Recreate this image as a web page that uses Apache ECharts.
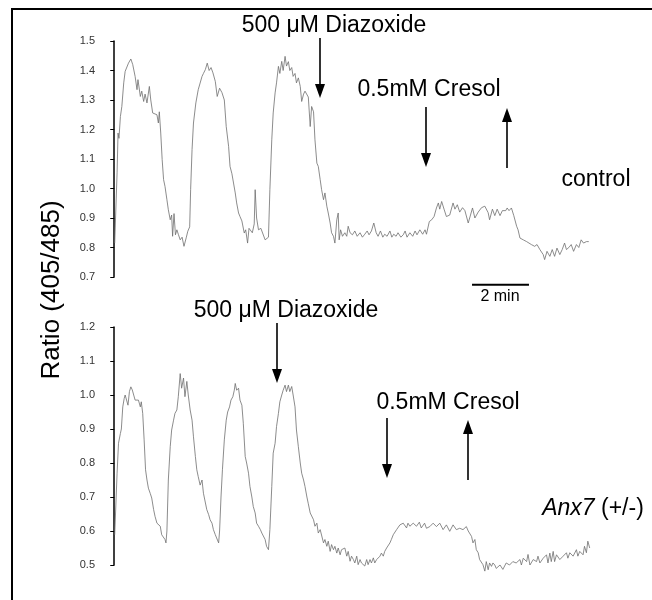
<!DOCTYPE html>
<html>
<head>
<meta charset="utf-8">
<script src="https://cdn.jsdelivr.net/npm/echarts@6/dist/echarts.min.js"></script>
<style>
  html, body { margin: 0; padding: 0; background: #fff; }
  #main { width: 652px; height: 600px; }
</style>
</head>
<body>
<div id="main"></div>
<script>
// time in seconds (2 min = 120 s), ratio 405/485
var controlTrace = [
  [1,0.815],[6,1.053],[8,1.188],[10,1.17],[13,1.244],[16,1.278],[20,1.358],[23,1.397],[30,1.425],[35,1.439],
  [39,1.42],[44,1.38],[48,1.335],[50,1.369],[55,1.312],[58,1.33],[62,1.295],[65,1.32],[69,1.29],[74,1.346],
  [77,1.30],[81,1.256],[85,1.26],[90,1.25],[93,1.222],[95,1.26],[98,1.188],[101,1.098],[104,1.03],[107,1.007],
  [111,0.962],[114,0.928],[118,0.894],[121,0.91],[123,0.838],[126,0.915],[129,0.843],[132,0.86],[135,0.845],[139,0.826],
  [143,0.835],[147,0.804],[152,0.835],[155,0.855],[159,0.87],[161,0.996],[164,1.132],[167,1.222],[172,1.29],[177,1.335],
  [181,1.34],[185,1.38],[188,1.39],[192,1.403],[196,1.425],[200,1.40],[204,1.41],[208,1.392],[213,1.363],[217,1.312],
  [222,1.34],[227,1.325],[232,1.30],[236,1.21],[241,1.143],[244,1.075],[248,1.05],[251,1.055],[255,0.985],[258,0.951],
  [262,0.917],[265,0.905],[269,0.89],[274,0.849],[277,0.86],[281,0.815],[284,0.865],[288,0.87],[291,0.85],[295,0.88],
  [297,0.996],[300,0.90],[304,0.86],[309,0.865],[313,0.86],[318,0.826],[321,0.82],[325,0.835],[328,0.996],[332,1.165],
  [335,1.256],[339,1.324],[342,1.358],[346,1.414],[349,1.39],[353,1.431],[356,1.40],[360,1.448],[363,1.415],[367,1.43],
  [370,1.40],[374,1.41],[377,1.38],[381,1.39],[384,1.358],[388,1.375],[392,1.346],[395,1.295],[399,1.32],[402,1.33],
  [406,1.325],[409,1.31],[413,1.21],[416,1.278],[420,1.26],[423,1.165],[427,1.086],[430,1.075],[434,1.03],[437,0.996],
  [441,0.962],[444,0.985],[448,0.94],[451,0.917],[455,0.883],[458,0.85],[462,0.838],[465,0.815],[469,0.894],[472,0.917],
  [474,0.826],[477,0.86],[481,0.838],[486,0.85],[490,0.838],[493,0.872],[497,0.85],[502,0.843],[507,0.856],[512,0.838],
  [518,0.85],[523,0.835],[528,0.845],[533,0.856],[537,0.843],[542,0.856],[547,0.883],[552,0.85],[556,0.838],[561,0.856],
  [566,0.835],[570,0.845],[575,0.838],[581,0.856],[585,0.835],[589,0.845],[594,0.838],[598,0.85],[604,0.835],[609,0.843],
  [613,0.856],[617,0.835],[623,0.85],[629,0.838],[634,0.856],[638,0.843],[644,0.86],[650,0.845],[655,0.86],[658,0.845],
  [664,0.888],[669,0.894],[674,0.905],[679,0.934],[683,0.951],[686,0.93],[690,0.956],[695,0.93],[700,0.905],[707,0.91],
  [714,0.951],[718,0.93],[723,0.945],[728,0.92],[734,0.935],[739,0.925],[746,0.883],[749,0.90],[755,0.934],[760,0.90],
  [767,0.92],[774,0.935],[781,0.94],[788,0.918],[791,0.894],[797,0.93],[802,0.908],[807,0.93],[813,0.908],[818,0.925],
  [825,0.925],[828,0.934],[832,0.925],[837,0.934],[842,0.908],[848,0.872],[851,0.86],[855,0.832],[862,0.826],[869,0.82],
  [874,0.815],[879,0.81],[886,0.804],[891,0.81],[897,0.793],[904,0.776],[907,0.759],[912,0.787],[918,0.77],[923,0.793],
  [928,0.77],[933,0.798],[939,0.776],[944,0.793],[949,0.815],[953,0.793],[958,0.80],[963,0.81],[968,0.787],[974,0.81],
  [979,0.80],[984,0.826],[989,0.815],[995,0.82],[1000,0.82]
];

var anx7Trace = [
  [1,0.589],[6,0.77],[9,0.858],[13,0.887],[15,0.90],[18,0.965],[21,0.99],[23,1.0],[27,1.005],[29,0.97],
  [32,1.01],[35,1.024],[38,1.015],[41,1.0],[44,0.985],[48,0.98],[51,0.985],[55,0.965],[57,0.98],[60,0.946],
  [63,0.868],[66,0.78],[69,0.75],[72,0.726],[76,0.71],[79,0.697],[83,0.663],[86,0.643],[90,0.623],[93,0.618],
  [97,0.614],[100,0.589],[104,0.584],[107,0.575],[109,0.565],[111,0.60],[114,0.75],[118,0.848],[121,0.897],[125,0.926],
  [128,0.946],[132,0.956],[135,0.995],[139,1.063],[142,1.02],[146,1.05],[149,0.995],[153,1.04],[156,1.0],[160,0.956],
  [164,0.926],[167,0.877],[171,0.819],[174,0.78],[177,0.76],[181,0.735],[185,0.75],[188,0.711],[192,0.716],[195,0.663],
  [199,0.648],[202,0.633],[206,0.623],[209,0.604],[213,0.589],[216,0.584],[220,0.565],[222,0.60],[225,0.70],[228,0.78],
  [232,0.868],[236,0.926],[239,0.95],[243,0.965],[246,0.985],[250,0.995],[253,1.014],[255,1.034],[258,1.014],[262,1.02],
  [265,0.985],[269,0.97],[272,0.917],[276,0.819],[279,0.80],[283,0.77],[286,0.731],[290,0.70],[293,0.672],[297,0.653],
  [300,0.623],[304,0.614],[308,0.604],[311,0.594],[314,0.599],[318,0.575],[321,0.555],[325,0.545],[328,0.604],[332,0.731],
  [335,0.829],[339,0.858],[342,0.907],[346,0.946],[349,0.98],[353,1.0],[356,1.014],[360,1.029],[363,1.01],[367,1.029],
  [370,1.01],[374,1.025],[377,1.0],[381,0.965],[384,0.897],[388,0.848],[392,0.80],[395,0.77],[399,0.75],[402,0.731],
  [406,0.70],[409,0.68],[413,0.653],[416,0.657],[420,0.633],[423,0.614],[427,0.623],[430,0.594],[434,0.604],[437,0.599],
  [441,0.565],[444,0.575],[448,0.555],[451,0.57],[455,0.54],[458,0.56],[462,0.545],[465,0.555],[469,0.535],[472,0.55],
  [476,0.53],[479,0.545],[483,0.54],[486,0.55],[490,0.526],[493,0.54],[497,0.511],[500,0.526],[504,0.516],[507,0.506],
  [511,0.526],[514,0.501],[518,0.516],[521,0.506],[525,0.511],[528,0.497],[532,0.516],[535,0.501],[539,0.516],[542,0.506],
  [546,0.521],[549,0.506],[553,0.516],[556,0.511],[560,0.526],[563,0.535],[567,0.526],[570,0.54],[574,0.55],[577,0.545],
  [581,0.565],[584,0.575],[588,0.589],[591,0.594],[595,0.604],[598,0.599],[602,0.618],[605,0.614],[609,0.623],[616,0.609],
  [619,0.623],[623,0.614],[626,0.618],[630,0.623],[637,0.614],[643,0.626],[647,0.609],[654,0.623],[658,0.608],[665,0.613],
  [672,0.623],[679,0.613],[686,0.623],[693,0.604],[700,0.618],[707,0.599],[714,0.618],[721,0.604],[728,0.608],[735,0.604],
  [742,0.613],[746,0.60],[753,0.584],[756,0.565],[760,0.575],[763,0.545],[767,0.536],[770,0.516],[774,0.52],[777,0.501],
  [781,0.482],[784,0.51],[788,0.486],[791,0.506],[795,0.496],[798,0.506],[802,0.50],[805,0.49],[813,0.50],[819,0.487],
  [826,0.506],[830,0.51],[833,0.50],[840,0.51],[847,0.506],[855,0.516],[858,0.50],[862,0.52],[869,0.51],[872,0.531],
  [876,0.50],[883,0.516],[890,0.51],[893,0.526],[897,0.506],[904,0.52],[907,0.516],[911,0.53],[914,0.506],[918,0.535],
  [921,0.51],[925,0.54],[928,0.51],[932,0.53],[939,0.516],[946,0.526],[953,0.536],[956,0.52],[960,0.536],[967,0.526],
  [974,0.545],[977,0.526],[981,0.54],[988,0.53],[991,0.555],[995,0.536],[998,0.57],[1002,0.55]
];

// 2 min scale bar, drawn just under the control trace
var scaleBar = [[754, 0.674], [874, 0.674]];

var FONT = '"Liberation Sans", Arial, sans-serif';

function arrow(x, yTail, yTip) {
  var dir = yTip > yTail ? 1 : -1;
  var headLen = 14, headW = 5;
  var base = yTip - dir * headLen;
  return [
    { type: 'line', shape: { x1: x, y1: yTail, x2: x, y2: base }, style: { stroke: '#000', lineWidth: 1.6 } },
    { type: 'polygon', shape: { points: [[x - headW, base], [x + headW, base], [x, yTip]] }, style: { fill: '#000' } }
  ];
}

function label(text, x, y, size, extra) {
  var el = {
    type: 'text', x: x, y: y,
    style: { text: text, fontFamily: FONT, fontSize: size, fill: '#000', align: 'center', verticalAlign: 'middle' }
  };
  if (extra) { for (var k in extra) el[k] = extra[k]; }
  return el;
}

var graphics = [
  // frame (top and left edge)
  { type: 'line', shape: { x1: 11, y1: 9, x2: 652, y2: 9 }, style: { stroke: '#000', lineWidth: 2 } },
  { type: 'line', shape: { x1: 12, y1: 9, x2: 12, y2: 600 }, style: { stroke: '#000', lineWidth: 2 } },
  label('500 \u03bcM Diazoxide', 334, 26, 23),
  label('0.5mM Cresol', 429, 90, 23),
  label('control', 596, 180, 23),
  label('2 min', 500, 297, 16),
  label('500 \u03bcM Diazoxide', 286, 311, 23),
  label('0.5mM Cresol', 448, 403, 23),
  {
    type: 'text', x: 593, y: 509,
    style: {
      text: '{i|Anx7} {n|(+/-)}', align: 'center', verticalAlign: 'middle',
      fontFamily: FONT, fontSize: 23,
      rich: {
        i: { fontFamily: FONT, fontSize: 23, fontStyle: 'italic', fill: '#000' },
        n: { fontFamily: FONT, fontSize: 23, fill: '#000' }
      }
    }
  },
  label('Ratio (405/485)', 52, 290, 26, { rotation: Math.PI / 2 })
];
graphics = graphics
  .concat(arrow(320, 38, 98))
  .concat(arrow(426, 107, 167))
  .concat(arrow(507, 168, 108))
  .concat(arrow(277, 323, 383))
  .concat(arrow(387, 418, 478))
  .concat(arrow(468, 480, 420));

var yAxisStyle = {
  type: 'value',
  interval: 0.1,
  axisLine: { show: true, lineStyle: { color: '#000', width: 1.5 } },
  axisTick: { show: true, length: 4, lineStyle: { color: '#000', width: 1 } },
  axisLabel: { fontFamily: FONT, fontSize: 11, color: '#333', margin: 5, formatter: function (v) { return v.toFixed(1); } },
  splitLine: { show: false }
};

var chart = echarts.init(document.getElementById('main'));
chart.setOption({
  animation: false,
  backgroundColor: '#fff',
  grid: [
    { left: 100, top: 41, width: 503, height: 236 },
    { left: 100, top: 327, width: 503, height: 238 }
  ],
  xAxis: [
    { gridIndex: 0, type: 'value', min: -30, max: 1030, show: false },
    { gridIndex: 1, type: 'value', min: -30, max: 1030, show: false }
  ],
  yAxis: [
    Object.assign({ gridIndex: 0, min: 0.7, max: 1.5 }, yAxisStyle),
    Object.assign({ gridIndex: 1, min: 0.5, max: 1.2 }, yAxisStyle)
  ],
  series: [
    {
      name: 'control', type: 'line', xAxisIndex: 0, yAxisIndex: 0,
      data: controlTrace, showSymbol: false, clip: false,
      lineStyle: { color: '#6e6e6e', width: 0.8 }
    },
    {
      name: 'Anx7 (+/-)', type: 'line', xAxisIndex: 1, yAxisIndex: 1,
      data: anx7Trace, showSymbol: false, clip: false,
      lineStyle: { color: '#6e6e6e', width: 0.8 }
    },
    {
      name: '2 min', type: 'line', xAxisIndex: 0, yAxisIndex: 0,
      data: scaleBar, showSymbol: false, clip: false,
      lineStyle: { color: '#000', width: 2 }
    }
  ],
  graphic: graphics
});
</script>
</body>
</html>
